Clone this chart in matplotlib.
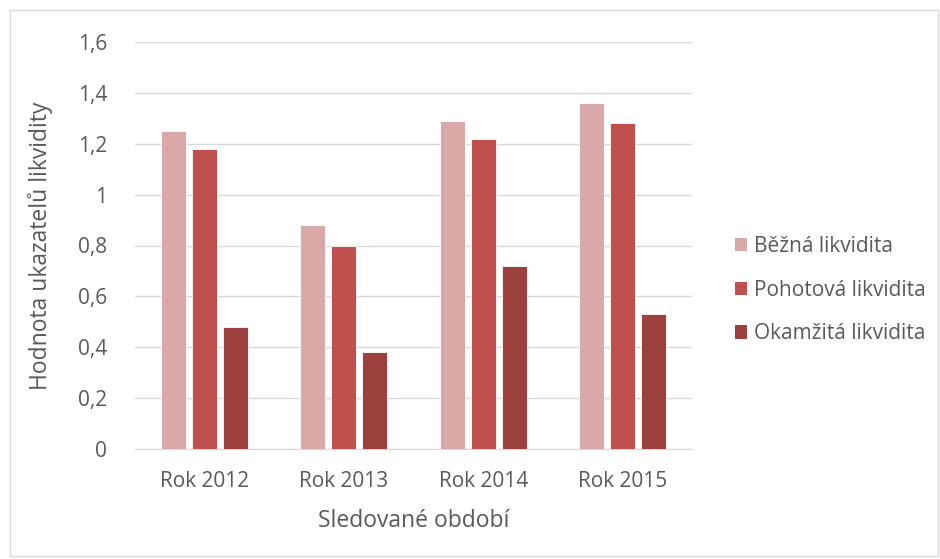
import numpy as np
import matplotlib
matplotlib.use("Agg")
import matplotlib.pyplot as plt
from matplotlib.patches import Rectangle, Patch

# data
categories = ["Rok 2012", "Rok 2013", "Rok 2014", "Rok 2015"]
series_names = ["Běžná likvidita", "Pohotová likvidita", "Okamžitá likvidita"]
bezna = [1.25, 0.88, 1.29, 1.36]
pohotova = [1.18, 0.80, 1.22, 1.28]
okamzita = [0.48, 0.38, 0.72, 0.53]
colors = ["#D9A9A9", "#C0504D", "#9C403E"]
y_ticks = [0, 0.2, 0.4, 0.6, 0.8, 1.0, 1.2, 1.4, 1.6]
y_tick_labels = ["0", "0,2", "0,4", "0,6", "0,8", "1", "1,2", "1,4", "1,6"]

plt.rcParams["font.family"] = ["Open Sans", "DejaVu Sans"]
TXT = "#595959"

fig = plt.figure(figsize=(9.4, 5.59), dpi=100)
fig.patch.set_facecolor("white")
fig.add_artist(Rectangle((10 / 940, 0.005), 928 / 940, 1 - 10 / 559 - 0.005,
                         transform=fig.transFigure, fill=False,
                         edgecolor="#D9D9D9", lw=1.0))

ax = fig.add_axes([135 / 940, 1 - 449 / 559, (692 - 135) / 940, (449 - 42) / 559])

x = np.arange(len(categories))
width = 0.18
step = 0.222
for i, (vals, col, name) in enumerate(zip([bezna, pohotova, okamzita], colors, series_names)):
    ax.bar(x + (i - 1) * step, vals, width, color=col, edgecolor="white",
           linewidth=0.6, label=name, zorder=3)

ax.set_xlim(-0.5, len(categories) - 0.5)
ax.set_ylim(0, 1.6)
ax.set_yticks(y_ticks)
ax.set_yticklabels(y_tick_labels)
ax.set_xticks(x)
ax.set_xticklabels(categories)
ax.grid(axis="y", color="#D9D9D9", lw=1.0, zorder=0)
for s in ["top", "right", "left"]:
    ax.spines[s].set_visible(False)
ax.spines["bottom"].set_color("#D9D9D9")
ax.tick_params(axis="both", length=0, labelsize=15, colors=TXT)
ax.tick_params(axis="y", pad=20)
ax.tick_params(axis="x", pad=16)

ax.set_ylabel("Hodnota ukazatelů likvidity", fontsize=16.5, color=TXT, labelpad=18)
ax.set_xlabel("Sledované období", fontsize=16.5, color=TXT, labelpad=12)

handles = [Patch(facecolor=c, edgecolor="none") for c in colors]
fig.legend(handles, series_names, loc="center left",
           bbox_to_anchor=(716 / 940, 1 - 290 / 559), frameon=False,
           fontsize=15, labelcolor=TXT, handlelength=0.6, handleheight=0.6,
           handletextpad=0.3, labelspacing=1.1)

fig.savefig("out.png", dpi=100, facecolor="white")
